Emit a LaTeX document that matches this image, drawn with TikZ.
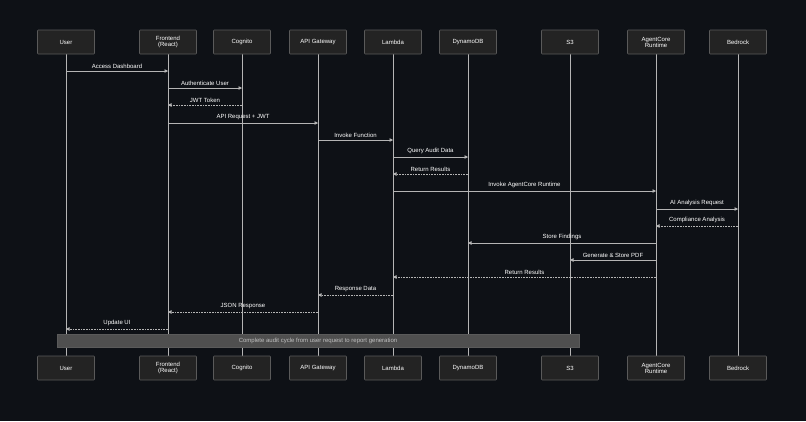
\documentclass[tikz,border=0pt]{standalone}
\usepackage{fontspec}
\setmainfont{Liberation Sans}
\usetikzlibrary{arrows.meta}
\definecolor{bg}{HTML}{0E1116}
\definecolor{boxf}{HTML}{232323}
\definecolor{boxd}{HTML}{5A5A5A}
\definecolor{ln}{HTML}{B5B5B5}
\definecolor{notef}{HTML}{4F4F4F}
\tikzset{x=1pt,y=-1pt,
 part/.style={draw=boxd,fill=boxf,minimum width=57pt,minimum height=24pt,inner sep=0pt,text=white,font=\fontsize{6}{6}\selectfont,align=center,rounded corners=0.8pt,line width=0.6pt},
 life/.style={draw=ln,line width=0.6pt},
 msg/.style={draw=ln,line width=0.6pt,-{Triangle[length=3.5pt,width=3.5pt]}},
 ret/.style={msg,densely dotted},
 lbl/.style={text=white,font=\fontsize{6}{6.5}\selectfont,above,inner sep=2.5pt}}
\begin{document}
\begin{tikzpicture}
\fill[bg] (0,0) rectangle (806,421);
\useasboundingbox (0,0) rectangle (806,421);
\foreach \n/\x/\t in {u/66/User,f/168/{Frontend\\(React)},c/242/Cognito,a/318/API Gateway,l/393/Lambda,d/468/DynamoDB,s/570/S3,r/656/{AgentCore\\Runtime},b/738/Bedrock}{
 \draw[life] (\x,54) -- (\x,356);
 \node[part] (\n t) at (\x,42) {\t};
 \node[part] (\n b) at (\x,368) {\t};
 \foreach \y in {71,88,105,123,140,157,174,191,209,226,243,260,277,295,312,329}{\coordinate (\n\y) at (\x,\y);}
}
\draw[msg] (u71) -- node[lbl]{Access Dashboard} (f71);
\draw[msg] (f88) -- node[lbl]{Authenticate User} (c88);
\draw[ret] (c105) -- node[lbl]{JWT Token} (f105);
\draw[msg] (f123) -- node[lbl]{API Request + JWT} (a123);
\draw[msg] (a140) -- node[lbl]{Invoke Function} (l140);
\draw[msg] (l157) -- node[lbl]{Query Audit Data} (d157);
\draw[ret] (d174) -- node[lbl]{Return Results} (l174);
\draw[msg] (l191) -- node[lbl]{Invoke AgentCore Runtime} (r191);
\draw[msg] (r209) -- node[lbl]{AI Analysis Request} (b209);
\draw[ret] (b226) -- node[lbl]{Compliance Analysis} (r226);
\draw[msg] (r243) -- node[lbl]{Store Findings} (d243);
\draw[msg] (r260) -- node[lbl]{Generate \& Store PDF} (s260);
\draw[ret] (r277) -- node[lbl]{Return Results} (l277);
\draw[ret] (l295) -- node[lbl]{Response Data} (a295);
\draw[ret] (a312) -- node[lbl]{JSON Response} (f312);
\draw[ret] (f329) -- node[lbl]{Update UI} (u329);
\node[fill=notef,draw=boxd,line width=0.4pt,minimum width=522pt,minimum height=13pt,inner sep=0pt,text=ln!85!white,font=\fontsize{6}{6.5}\selectfont] (note) at (318,340.5) {Complete audit cycle from user request to report generation};
\end{tikzpicture}
\end{document}
